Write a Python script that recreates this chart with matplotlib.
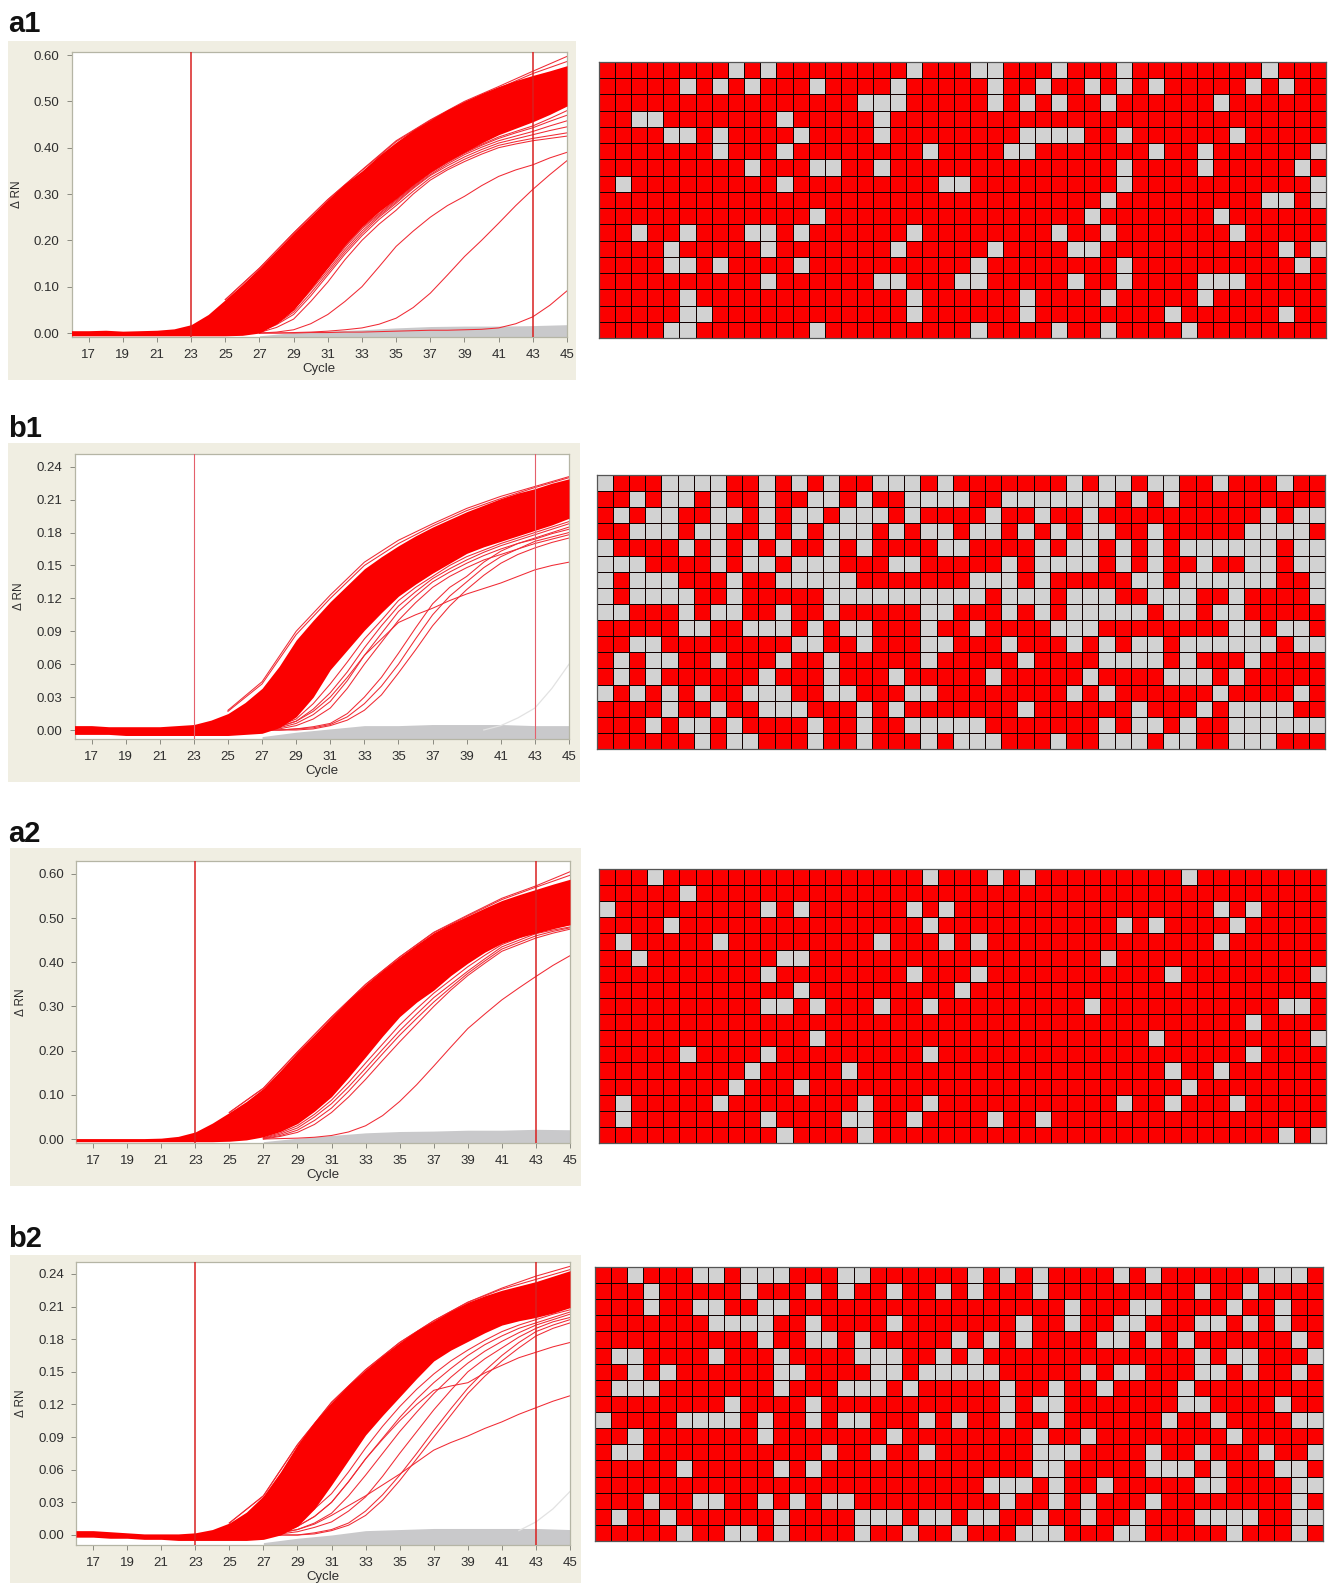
import numpy as np
import matplotlib
matplotlib.use("Agg")
import matplotlib.pyplot as plt
from matplotlib.colors import ListedColormap
from matplotlib.patches import Rectangle

plt.rcParams['font.family'] = ['Liberation Sans', 'DejaVu Sans']

W, H = 1331, 1583
N_COLS, N_ROWS = 45, 17

CYCLES = list(range(16, 46))
LATE = list(range(27, 46))
FRINGE = [25, 27, 29, 31, 33, 35, 37, 39, 41, 43, 45]
GREY_CYCLES = [27, 29, 31, 33, 35, 37, 39, 41, 43, 45]
XTICKS = list(range(17, 46, 2))
A_TICKS = [0.00, 0.10, 0.20, 0.30, 0.40, 0.50, 0.60]
B_TICKS = [0.00, 0.03, 0.06, 0.09, 0.12, 0.15, 0.18, 0.21, 0.24]
THRESHOLD_CYCLES = [23, 43]

# ---------- a1 ----------
A1_TOP = [.005, .005, .006, .004, .005, .006, .009, .018, .040, .072, .105, .140, .178, .216, .252, .288,
          .322, .350, .383, .412, .438, .460, .482, .500, .517, .532, .545, .556, .566, .577]
A1_LOW = [-.006, -.006, -.006, -.006, -.006, -.006, -.006, -.006, -.006, -.006, -.005, .000, .020, .050, .095, .142,
          .190, .230, .262, .290, .320, .347, .370, .390, .410, .428, .442, .456, .472, .490]
A1_FRINGE = [
    [.072, .140, .216, .288, .352, .415, .460, .500, .532, .565, .597],
    [.072, .140, .216, .288, .351, .413, .459, .498, .528, .560, .586],
]
A1_LINES = [
    [.000, .002, .007, .020, .040, .068, .100, .143, .187, .220, .250, .275, .295, .318, .338, .352, .363, .378, .390],
    [.000, .000, .001, .002, .004, .007, .011, .019, .032, .055, .086, .125, .165, .200, .237, .275, .310, .342, .372],
    [.000, .000, .000, .001, .001, .002, .002, .003, .004, .005, .006, .006, .007, .008, .011, .020, .035, .060, .091],
    [.001, .012, .030, .068, .110, .158, .200, .235, .265, .300, .330, .352, .370, .386, .400, .408, .415, .420, .425],
    [.002, .018, .040, .080, .125, .170, .210, .245, .275, .306, .335, .356, .375, .391, .405, .413, .420, .426, .432],
    [.002, .020, .045, .086, .130, .175, .215, .250, .280, .312, .340, .361, .380, .396, .410, .419, .428, .437, .445],
    [.003, .022, .050, .092, .135, .180, .220, .253, .283, .314, .342, .365, .385, .401, .415, .425, .435, .447, .458],
    [.003, .024, .052, .096, .140, .185, .225, .256, .286, .316, .345, .368, .388, .405, .420, .432, .443, .457, .470],
    [.004, .025, .054, .098, .142, .188, .228, .258, .288, .318, .347, .370, .390, .407, .423, .435, .447, .463, .480],
]
A1_GREY_TOP = [-.006, .001, .004, .007, .011, .014, .015, .015, .016, .018]

# ---------- b1 ----------
B1_TOP = [.004, .004, .003, .003, .003, .003, .004, .005, .009, .015, .025, .038, .058, .082, .100, .117,
          .132, .147, .158, .168, .177, .185, .192, .199, .205, .211, .216, .220, .225, .229]
B1_LOW = [-.004, -.004, -.004, -.005, -.005, -.005, -.005, -.005, -.005, -.005, -.004, -.003, .002, .012, .030, .055,
          .073, .091, .107, .122, .133, .143, .152, .161, .167, .172, .177, .182, .187, .193]
B1_FRINGE = [
    [.018, .044, .090, .123, .153, .173, .188, .202, .213, .222, .231],
    [.017, .042, .087, .120, .150, .170, .186, .200, .211, .221, .230],
]
B1_LINES = [
    [.000, .003, .008, .017, .030, .048, .068, .083, .098, .105, .111, .118, .124, .129, .134, .140, .146, .150, .153],
    [.000, .000, .000, .001, .004, .009, .018, .032, .052, .073, .095, .113, .128, .141, .152, .160, .166, .171, .175],
    [.000, .000, .001, .002, .005, .012, .024, .040, .060, .083, .105, .122, .135, .148, .158, .165, .172, .176, .180],
    [.000, .000, .001, .003, .006, .015, .030, .048, .070, .093, .115, .130, .140, .153, .163, .170, .175, .180, .185],
    [.000, .001, .004, .010, .020, .038, .060, .080, .100, .116, .130, .140, .148, .155, .160, .165, .170, .174, .178],
    [.000, .002, .006, .014, .026, .045, .068, .088, .108, .122, .135, .144, .152, .159, .165, .170, .174, .179, .183],
    [.001, .003, .008, .019, .034, .053, .075, .095, .113, .126, .138, .147, .155, .162, .168, .173, .178, .183, .188],
    [.001, .004, .010, .024, .042, .062, .083, .100, .118, .130, .140, .150, .158, .164, .170, .175, .180, .185, .190],
]
B1_FAINT_X = [40, 41, 42, 43, 44, 45]
B1_FAINT_Y = [.000, .004, .011, .020, .038, .060]
B1_GREY_TOP = [-.006, -.002, .001, .004, .004, .005, .005, .005, .004, .004]

# ---------- a2 ----------
A2_TOP = [.001, .001, .001, .001, .001, .002, .006, .016, .036, .060, .085, .115, .155, .197, .236, .276,
          .315, .350, .382, .412, .440, .467, .487, .505, .523, .540, .553, .565, .577, .588]
A2_LOW = [-.006, -.006, -.006, -.006, -.006, -.006, -.006, -.006, -.006, -.005, -.002, .005, .017, .035, .063, .096,
          .140, .186, .233, .277, .310, .337, .370, .398, .423, .443, .456, .466, .476, .485]
A2_FRINGE = [
    [.060, .115, .197, .276, .350, .412, .468, .507, .545, .573, .605],
    [.060, .115, .197, .276, .350, .412, .467, .505, .542, .570, .597],
]
A2_LINES = [
    [.000, .001, .002, .004, .008, .016, .030, .053, .085, .123, .165, .208, .250, .283, .315, .342, .368, .393, .415],
    [.000, .006, .015, .033, .060, .095, .135, .178, .220, .260, .300, .337, .370, .398, .425, .440, .455, .466, .475],
    [.001, .008, .020, .042, .070, .108, .150, .193, .235, .273, .310, .343, .375, .403, .430, .445, .460, .470, .478],
    [.002, .011, .025, .050, .080, .118, .160, .203, .245, .283, .320, .350, .380, .408, .435, .450, .465, .473, .480],
    [.003, .014, .030, .056, .088, .128, .172, .215, .258, .295, .330, .360, .390, .416, .440, .455, .470, .478, .485],
]
A2_GREY_TOP = [-.006, .002, .008, .014, .017, .018, .020, .020, .022, .021]

# ---------- b2 ----------
B2_TOP = [.004, .004, .003, .002, .001, .001, .001, .002, .005, .011, .021, .036, .058, .083, .104, .122,
          .138, .152, .165, .177, .188, .197, .206, .214, .220, .225, .229, .233, .238, .243]
B2_LOW = [-.002, -.002, -.003, -.003, -.004, -.004, -.005, -.005, -.005, -.005, -.005, -.004, .000, .008, .024, .046,
          .069, .092, .110, .127, .144, .160, .170, .178, .186, .193, .197, .200, .204, .209]
B2_FRINGE = [
    [.011, .036, .083, .122, .152, .177, .197, .214, .227, .238, .247],
    [.011, .036, .083, .122, .152, .177, .197, .214, .226, .235, .244],
]
B2_LINES = [
    [.000, .002, .005, .010, .018, .027, .036, .046, .056, .067, .078, .085, .091, .098, .104, .111, .117, .123, .128],
    [.000, .003, .008, .017, .030, .049, .070, .088, .105, .120, .133, .137, .140, .149, .156, .163, .168, .173, .177],
    [.000, .000, .000, .001, .004, .009, .018, .032, .050, .070, .090, .110, .130, .146, .160, .172, .183, .190, .195],
    [.000, .000, .000, .002, .005, .011, .022, .037, .055, .075, .096, .116, .135, .151, .165, .177, .187, .193, .198],
    [.000, .001, .003, .007, .012, .022, .035, .054, .075, .095, .115, .133, .150, .162, .172, .182, .190, .196, .200],
    [.000, .002, .005, .011, .020, .036, .055, .075, .095, .113, .130, .145, .158, .169, .178, .186, .193, .198, .203],
    [.000, .003, .008, .017, .030, .049, .070, .089, .108, .125, .140, .153, .165, .175, .183, .190, .195, .200, .205],
    [.001, .005, .012, .024, .038, .058, .080, .100, .118, .134, .148, .160, .170, .179, .187, .193, .198, .203, .207],
]
B2_FAINT_X = [42, 43, 44, 45]
B2_FAINT_Y = [.004, .012, .024, .040]
B2_GREY_TOP = [-.007, -.003, .000, .004, .005, .006, .006, .006, .006, .005]

# ---------- grids: grey (negative) wells per row ----------
GRID_A1 = [
    [8, 10, 19, 23, 24, 28, 32, 41],
    [5, 7, 9, 13, 18, 24, 27, 30, 32, 34, 40, 42],
    [16, 17, 18, 24, 26, 28, 31, 38],
    [2, 3, 11, 17],
    [4, 5, 7, 12, 17, 26, 27, 28, 29, 32, 39],
    [7, 11, 20, 25, 26, 34, 37, 44],
    [9, 13, 14, 17, 32, 37, 43],
    [1, 11, 21, 22, 32, 44],
    [31, 41, 42, 44],
    [13, 30, 38],
    [2, 5, 9, 10, 12, 19, 28, 31, 39],
    [4, 10, 18, 24, 29, 30, 42, 44],
    [4, 5, 7, 12, 23, 32, 43],
    [10, 17, 18, 22, 23, 29, 32, 37, 38, 39],
    [5, 19, 26, 31, 37],
    [5, 6, 19, 26, 35, 42],
    [4, 5, 13, 23, 28, 31, 36],
]
GRID_B1 = [
    [0, 4, 5, 6, 7, 10, 12, 14, 17, 18, 19, 21, 29, 31, 32, 34, 35, 38, 42],
    [2, 4, 5, 7, 10, 13, 14, 16, 19, 20, 21, 22, 25, 26, 27, 28, 29, 30, 31, 33, 35],
    [1, 3, 4, 7, 8, 10, 12, 13, 15, 16, 17, 19, 24, 27, 30, 41, 43, 44],
    [2, 3, 4, 6, 7, 10, 12, 14, 15, 16, 18, 20, 21, 23, 24, 26, 28, 30, 31, 34, 40, 41, 42, 43],
    [0, 5, 7, 9, 11, 14, 16, 21, 22, 27, 29, 30, 32, 34, 36, 37, 38, 39, 40, 41, 43, 44],
    [0, 1, 2, 7, 9, 10, 12, 13, 14, 18, 19, 25, 27, 28, 29, 30, 32, 34, 37, 40, 41, 43, 44],
    [0, 2, 3, 4, 8, 11, 12, 13, 14, 15, 23, 24, 25, 27, 33, 34, 36, 37, 38, 39, 40, 41, 44],
    [0, 2, 3, 4, 5, 8, 14, 15, 16, 17, 18, 19, 20, 21, 22, 23, 25, 26, 27, 29, 30, 31, 34, 35, 36, 39, 44],
    [0, 1, 5, 7, 8, 11, 14, 20, 21, 25, 27, 29, 30, 31, 32, 33, 35, 36, 38, 39],
    [5, 6, 9, 10, 11, 13, 15, 16, 20, 23, 28, 29, 30, 39, 40, 42, 43],
    [2, 3, 12, 13, 16, 20, 21, 25, 29, 31, 33, 34, 36, 37, 38, 39, 40, 41, 43, 44],
    [1, 3, 4, 7, 11, 14, 20, 26, 31, 32, 33, 34, 36, 40],
    [1, 3, 10, 14, 18, 24, 30, 35, 36, 37, 39],
    [0, 2, 4, 6, 9, 10, 11, 14, 15, 19, 20, 29, 31, 38, 43],
    [4, 7, 10, 11, 12, 16, 18, 26, 33, 37, 39, 40, 41, 42],
    [3, 5, 6, 8, 13, 16, 19, 20, 21, 22, 23, 31, 33, 34, 36, 39, 40, 41, 42, 43, 44],
    [6, 8, 9, 13, 16, 20, 22, 23, 24, 28, 31, 32, 33, 35, 36, 39, 40, 41],
]
GRID_A2 = [
    [3, 20, 24, 26, 36],
    [5],
    [0, 10, 12, 19, 21, 38, 40],
    [4, 20, 32, 34, 39],
    [1, 7, 17, 21, 23, 38],
    [2, 11, 12, 31],
    [10, 19, 23, 35, 44],
    [12, 22],
    [10, 11, 13, 17, 20, 30, 42, 43],
    [40],
    [13, 34, 44],
    [5, 10, 20, 40],
    [9, 15, 35, 38],
    [8, 12, 36],
    [1, 7, 16, 20, 32, 35, 39],
    [1, 10, 15, 16, 19, 24, 27],
    [11, 16, 42, 44],
]
GRID_B2 = [
    [2, 6, 7, 9, 10, 11, 15, 16, 23, 25, 27, 32, 34, 41, 42, 43],
    [3, 9, 13, 15, 18, 21, 23, 27, 37, 40],
    [3, 6, 7, 10, 11, 29, 33, 34, 39, 42],
    [7, 8, 9, 10, 13, 18, 26, 29, 32, 33, 37, 38, 40, 42],
    [10, 13, 14, 16, 22, 24, 26, 31, 32, 34, 36, 43],
    [1, 2, 7, 11, 16, 17, 18, 21, 23, 37, 39, 40, 44],
    [2, 4, 11, 12, 17, 18, 20, 21, 22, 23, 24, 30, 32, 33, 37, 38, 40, 43],
    [1, 2, 3, 11, 15, 16, 17, 19, 25, 28, 31, 36],
    [8, 13, 25, 27, 28, 36, 37, 42],
    [0, 5, 6, 7, 8, 10, 13, 15, 16, 20, 22, 25, 28, 35, 38, 43, 44],
    [2, 10, 18, 27, 30, 39],
    [1, 2, 14, 17, 20, 27, 28, 29, 34, 37, 41, 44],
    [5, 11, 13, 27, 28, 34, 35, 36, 38, 42, 43],
    [24, 25, 26, 28, 31, 37, 38, 43, 44],
    [3, 6, 7, 10, 12, 14, 15, 25, 28, 30, 34, 43],
    [1, 4, 11, 16, 17, 18, 20, 21, 23, 24, 27, 30, 33, 37, 38, 39, 40, 43, 44],
    [5, 8, 9, 11, 16, 19, 22, 26, 27, 28, 32, 33, 39, 43],
]

# ---------- layout in reference pixels ----------
PANELS = [
    dict(name='a1', label_y=32, bg=(7.5, 41, 576, 380), plot=(71.5, 52, 567, 337), ylim=(-.0086, .6065),
         yticks=A_TICKS, top=A1_TOP, low=A1_LOW, fringe=A1_FRINGE, lines=A1_LINES, faint=None,
         grey=A1_GREY_TOP, grid=GRID_A1, grid_box=(598.5, 62, 1326, 338), vc='#d92020', vw=1.1),
    dict(name='b1', label_y=437, bg=(7.5, 443, 580, 782), plot=(74.5, 454, 569, 739), ylim=(-.0082, .2516),
         yticks=B_TICKS, top=B1_TOP, low=B1_LOW, fringe=B1_FRINGE, lines=B1_LINES, faint=(B1_FAINT_X, B1_FAINT_Y),
         grey=B1_GREY_TOP, grid=GRID_B1, grid_box=(596.6, 475, 1325, 749), vc='#e4606c', vw=0.8),
    dict(name='a2', label_y=842, bg=(10, 848, 581, 1186), plot=(76, 860.7, 570, 1143), ylim=(-.009, .630),
         yticks=A_TICKS, top=A2_TOP, low=A2_LOW, fringe=A2_FRINGE, lines=A2_LINES, faint=None,
         grey=A2_GREY_TOP, grid=GRID_A2, grid_box=(598.5, 869, 1326, 1143), vc='#d92020', vw=1.1),
    dict(name='b2', label_y=1247, bg=(10, 1255, 581, 1583), plot=(76, 1262, 570, 1545), ylim=(-.0092, .251),
         yticks=B_TICKS, top=B2_TOP, low=B2_LOW, fringe=B2_FRINGE, lines=B2_LINES, faint=(B2_FAINT_X, B2_FAINT_Y),
         grey=B2_GREY_TOP, grid=GRID_B2, grid_box=(594.7, 1267, 1323, 1541), vc='#d92020', vw=1.1),
]

RED = '#fb0000'
LINE_RED = '#f02a34'
GREY_WELL = '#d2d2d2'
BEIGE = '#f0eee2'
FRAME = '#b5b5a5'
TEXT = '#2e2e2e'

fig = plt.figure(figsize=(W / 100, H / 100), dpi=100, facecolor='white')


def box(x0, y0, x1, y1):
    return [x0 / W, 1 - y1 / H, (x1 - x0) / W, (y1 - y0) / H]


for p in PANELS:
    x0, y0, x1, y1 = p['bg']
    fig.add_artist(Rectangle((x0 / W, 1 - y1 / H), (x1 - x0) / W, (y1 - y0) / H,
                             transform=fig.transFigure, fc=BEIGE, ec='none', zorder=-5))
    fig.text(8 / W, 1 - p['label_y'] / H, p['name'], fontsize=21, fontweight='bold',
             color='#111111', ha='left', va='baseline')

    ax = fig.add_axes(box(*p['plot']), facecolor='white')
    ax.set_xlim(16, 45)
    ax.set_ylim(*p['ylim'])
    ymin = p['ylim'][0]
    ax.fill_between(GREY_CYCLES, [ymin] * len(GREY_CYCLES), p['grey'], color='#c9c9cb', lw=0, zorder=1)
    if p['faint'] is not None:
        ax.plot(p['faint'][0], p['faint'][1], color='#e2e2e2', lw=0.9, zorder=1.5)
    ax.fill_between(CYCLES, p['low'], p['top'], color=RED, lw=0, zorder=3)
    for series in p['fringe']:
        ax.plot(FRINGE, series, color=LINE_RED, lw=0.75, zorder=2.5)
    for series in p['lines']:
        ax.plot(LATE, series, color=LINE_RED, lw=0.75, zorder=2.5)
    for c in THRESHOLD_CYCLES:
        ax.axvline(c, color=p['vc'], lw=p['vw'], zorder=4)
    ax.set_xticks(XTICKS)
    ax.set_xticklabels([str(v) for v in XTICKS])
    ax.set_yticks(p['yticks'])
    ax.set_yticklabels([f'{v:.2f}' for v in p['yticks']])
    ax.tick_params(axis='x', length=3.5, width=0.7, color='#8a8a80', labelsize=9.5, labelcolor=TEXT, pad=5)
    ax.tick_params(axis='y', length=3.5, width=0.7, color='#8a8a80', labelsize=9.5, labelcolor=TEXT, pad=5)
    for s in ax.spines.values():
        s.set_color(FRAME)
        s.set_linewidth(0.9)

    px0, py0, px1, py1 = p['plot']
    fig.text((px0 + px1) / 2 / W, 1 - (py1 + 32) / H, 'Cycle', fontsize=9.5, color=TEXT,
             ha='center', va='center')
    fig.text((px0 - 55) / W, 1 - (py0 + py1) / 2 / H, '\u0394 RN', fontsize=8.5, color=TEXT,
             rotation=90, ha='center', va='center')

    matrix = np.zeros((N_ROWS, N_COLS))
    for r, cols in enumerate(p['grid']):
        matrix[r, cols] = 1
    gax = fig.add_axes(box(*p['grid_box']))
    gax.pcolormesh(matrix, cmap=ListedColormap([RED, GREY_WELL]), vmin=0, vmax=1,
                   edgecolors='#100000', linewidth=0.7)
    gax.set_xlim(0, N_COLS)
    gax.set_ylim(N_ROWS, 0)
    gax.set_xticks([])
    gax.set_yticks([])
    for s in gax.spines.values():
        s.set_color('#555555')
        s.set_linewidth(0.9)

fig.savefig('out.png', dpi=100, facecolor='white')
